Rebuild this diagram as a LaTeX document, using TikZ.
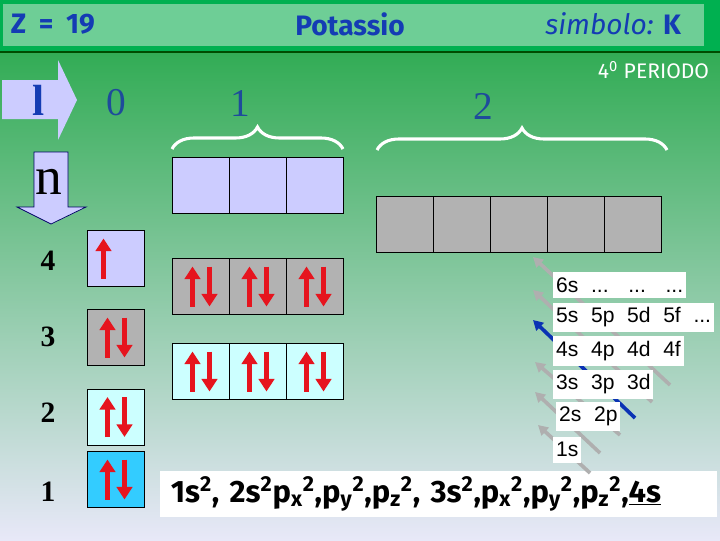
\documentclass[tikz,border=0pt]{standalone}
\usepackage{fontspec}
\setmainfont{Liberation Serif}
\newfontfamily\headfont{Fira Sans}
\newfontfamily\orbfont{Liberation Sans}
\usetikzlibrary{arrows.meta,positioning,decorations.pathreplacing}

\definecolor{headgreen}{RGB}{0,176,80}
\definecolor{headlight}{RGB}{110,206,150}
\definecolor{topgreen}{RGB}{50,172,85}
\definecolor{midgreen}{RGB}{165,210,180}
\definecolor{lowlilac}{RGB}{232,232,248}
\definecolor{titleblue}{RGB}{20,60,180}
\definecolor{numblue}{RGB}{30,75,155}
\definecolor{lavender}{RGB}{204,204,255}
\definecolor{orbgray}{RGB}{178,178,178}
\definecolor{palecyan}{RGB}{204,255,255}
\definecolor{skycyan}{RGB}{51,204,255}
\definecolor{spinred}{RGB}{230,20,30}
\definecolor{diaggray}{RGB}{175,175,175}
\definecolor{diagblue}{RGB}{10,50,180}

\tikzset{
  orbital/.style={draw, line width=0.6pt, fill=#1, minimum width=1.425cm,
    minimum height=1.4cm, inner sep=0pt, outer sep=0pt},
  spin/.style={draw=spinred, line width=3.5pt, -{Triangle[width=11pt,length=9pt]}},
  diag/.style={line width=2.6pt, -{Triangle[width=7.5pt,length=7pt]}},
  lbl/.style={fill=white, anchor=west, inner xsep=2pt, minimum height=0.65cm,
    font=\orbfont\fontsize{15}{15}\selectfont},
  header/.style={text=titleblue, font=\headfont\bfseries\fontsize{20}{20}\selectfont},
  qnum/.style={text=numblue, font=\fontsize{28}{28}\selectfont},
  rownum/.style={font=\bfseries\fontsize{21}{21}\selectfont},
  brace/.style={draw=white, line width=2.2pt, decorate,
    decoration={brace, amplitude=0.55cm}}
}

\newcommand\gap{\hspace{9pt}}
\newcommand\spinpair[1]{%
  \draw[spin] ([shift={(-8,20)}]#1.center) -- ++(0,-40);
  \draw[spin] ([shift={(9,-20)}]#1.center) -- ++(0,40);}
\newcommand\spinup[1]{\draw[spin] ([shift={(-12,20)}]#1.center) -- ++(0,-40);}

\begin{document}
\begin{tikzpicture}[x=0.025cm, y=-0.025cm]
\useasboundingbox (0,0) rectangle (720,540);

% background and title bar
\shade[top color=topgreen, middle color=midgreen, bottom color=lowlilac]
  (0,52) rectangle (720,540);
\fill[headgreen] (0,0) rectangle (720,52);
\fill[headlight] (3,4) rectangle (704,46);
\draw[black!70!green, line width=1.2pt] (0,52) -- (720,52);

\node[header, anchor=west] (zeta) at (6,24) {Z\hspace{0.45em}=\hspace{0.45em}19};
\node[header] (elem) at (350,24) {Potassio};
\node[header, anchor=east] (symb) at (686,24) {\mdseries\itshape simbolo: \upshape\bfseries K};
\node[text=white, anchor=east, font=\headfont\fontsize{15}{15}\selectfont]
  (period) at (714,70) {4\textsuperscript{0} PERIODO};

% quantum number arrows
\fill[lavender] (2,80) -- (58,80) -- (58,60) -- (77,100) -- (58,140) -- (58,119)
  -- (2,119) -- cycle;
\node[text=titleblue, font=\bfseries\fontsize{31}{31}\selectfont] (lname) at (39,100) {l};
\filldraw[fill=lavender, draw=black!60!blue, line width=0.5pt] (34,152) -- (68,152)
  -- (68,207) -- (86,207) -- (51,224) -- (17,207) -- (34,207) -- cycle;
\node[font=\fontsize{38}{38}\selectfont] (nname) at (49,182) {n};

\node[qnum] (l0) at (116,103) {0};
\node[qnum] (l1) at (240,103) {1};
\node[qnum] (l2) at (483,106) {2};
\draw[brace] (172,149) -- (343,149);
\draw[brace] (377,150) -- (667,150);

\node[rownum] (n4) at (48,261) {4};
\node[rownum] (n3) at (48,337) {3};
\node[rownum] (n2) at (48,413) {2};
\node[rownum] (n1) at (48,492) {1};

% orbital boxes
\node[orbital=lavender] (s4) at (115.5,258.5) {};
\node[orbital=orbgray] (s3) at (115.5,337.5) {};
\node[orbital=palecyan] (s2) at (115.5,417) {};
\node[orbital=skycyan] (s1) at (115.5,479.5) {};

\node[orbital=lavender] (p4a) at (200.5,185) {};
\node[orbital=lavender, right=0pt of p4a] (p4b) {};
\node[orbital=lavender, right=0pt of p4b] (p4c) {};

\node[orbital=orbgray] (d3a) at (405.3,224.5) {};
\node[orbital=orbgray, right=0pt of d3a] (d3b) {};
\node[orbital=orbgray, right=0pt of d3b] (d3c) {};
\node[orbital=orbgray, right=0pt of d3c] (d3d) {};
\node[orbital=orbgray, right=0pt of d3d] (d3e) {};

\node[orbital=orbgray] (p3a) at (200.5,286.5) {};
\node[orbital=orbgray, right=0pt of p3a] (p3b) {};
\node[orbital=orbgray, right=0pt of p3b] (p3c) {};

\node[orbital=palecyan] (p2a) at (200.5,371.5) {};
\node[orbital=palecyan, right=0pt of p2a] (p2b) {};
\node[orbital=palecyan, right=0pt of p2b] (p2c) {};

% electrons
\spinup{s4}
\spinpair{s3}
\spinpair{s2}
\spinpair{s1}
\spinpair{p3a}
\spinpair{p3b}
\spinpair{p3c}
\spinpair{p2a}
\spinpair{p2b}
\spinpair{p2c}

% configuration
\node[fill=white, anchor=west, minimum width=13.925cm, minimum height=1.15cm,
  inner xsep=0.26cm, text width=13.4cm, align=left,
  font=\headfont\bfseries\fontsize{22}{22}\selectfont] (config) at (160,494)
  {1s\textsuperscript{2}, 2s\textsuperscript{2}p\textsubscript{x}\textsuperscript{2},p\textsubscript{y}\textsuperscript{2},p\textsubscript{z}\textsuperscript{2}, 3s\textsuperscript{2},p\textsubscript{x}\textsuperscript{2},p\textsubscript{y}\textsuperscript{2},p\textsubscript{z}\textsuperscript{2},\underline{4s}};

% filling order
\coordinate (t1) at (590,473); \coordinate (h1) at (538,425);
\coordinate (t2) at (600,453); \coordinate (h2) at (535,392);
\coordinate (t3) at (620,435); \coordinate (h3) at (535,362);
\coordinate (t4) at (635,418); \coordinate (h4) at (533,320);
\coordinate (t5) at (652,402); \coordinate (h5) at (533,290);
\coordinate (t6) at (670,385); \coordinate (h6) at (533,257);
\draw[diag, diaggray] (t1) -- (h1);
\draw[diag, diaggray] (t2) -- (h2);
\draw[diag, diaggray] (t3) -- (h3);
\draw[diag, diagblue] (t4) -- (h4);
\draw[diag, diaggray] (t5) -- (h5);
\draw[diag, diaggray] (t6) -- (h6);

\node[lbl] (o6) at (553,285) {6s\gap...\hspace{14pt}...\hspace{14pt}...};
\node[lbl] (o5) at (553,317.5) {5s\gap 5p\gap 5d\gap 5f\gap ...};
\node[lbl] (o4) at (553,351) {4s\gap 4p\gap 4d\gap 4f};
\node[lbl] (o3) at (553,384.5) {3s\gap 3p\gap 3d};
\node[lbl] (o2) at (556,416.5) {2s\gap 2p};
\node[lbl] (o1) at (553,449.5) {1s};
\end{tikzpicture}
\end{document}
